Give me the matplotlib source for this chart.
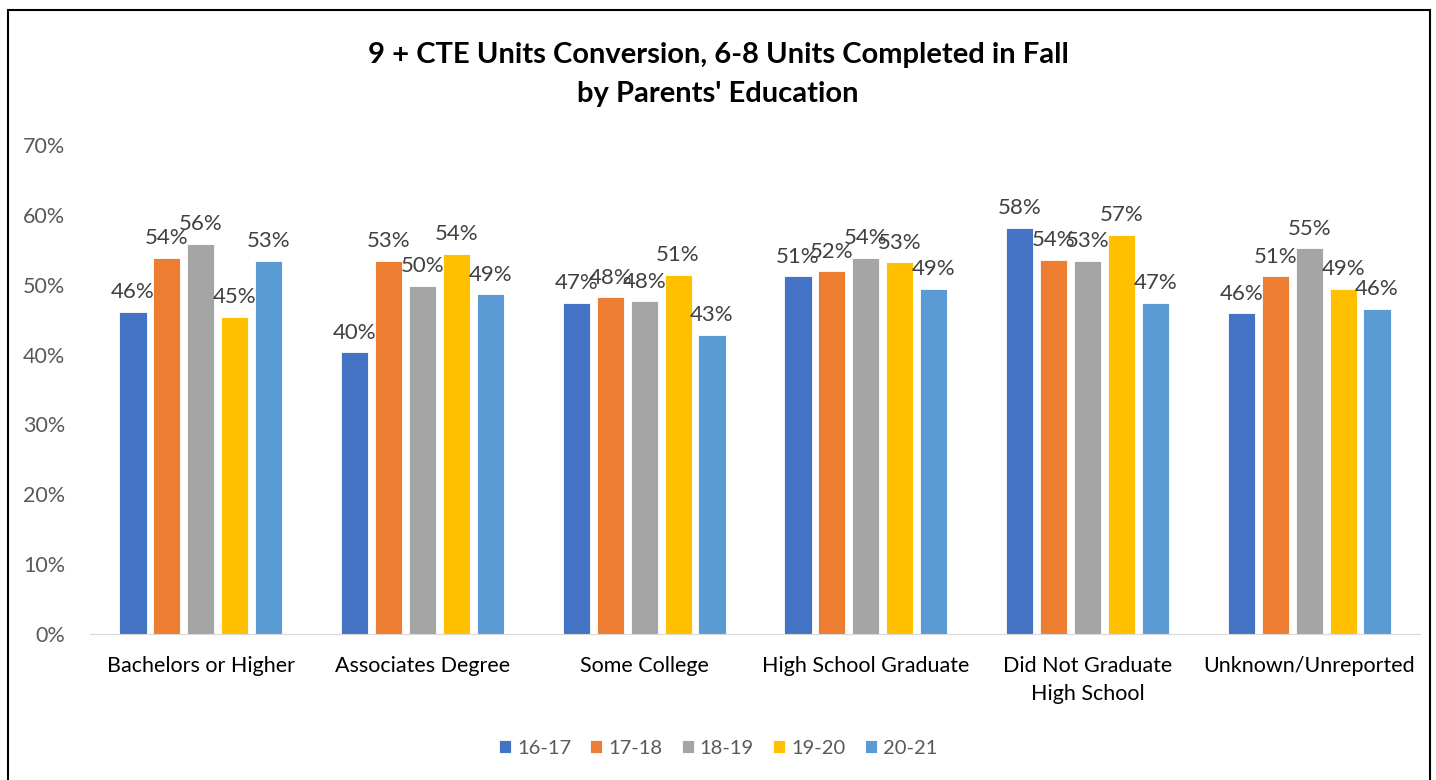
import matplotlib.pyplot as plt
import numpy as np

categories = ['Bachelors or Higher', 'Associates Degree', 'Some College',
              'High School Graduate', 'Did Not Graduate\nHigh School', 'Unknown/Unreported']
years = ['16-17', '17-18', '18-19', '19-20', '20-21']
v_16_17 = [46.1, 40.3, 47.4, 51.2, 58.1, 45.9]
v_17_18 = [53.8, 53.4, 48.2, 51.9, 53.6, 51.2]
v_18_19 = [55.8, 49.8, 47.6, 53.8, 53.4, 55.2]
v_19_20 = [45.4, 54.4, 51.4, 53.2, 57.1, 49.4]
v_20_21 = [53.4, 48.6, 42.8, 49.4, 47.4, 46.5]
series = [v_16_17, v_17_18, v_18_19, v_19_20, v_20_21]
colors = ['#4472C4', '#ED7D31', '#A5A5A5', '#FFC000', '#5B9BD5']

plt.rcParams['font.family'] = ['Lato', 'DejaVu Sans']

fig = plt.figure(figsize=(14.36, 7.80), dpi=100)
ax = fig.add_axes([90 / 1436, (780 - 634) / 780, (1420 - 90) / 1436, (634 - 145) / 780])

x = np.arange(len(categories))
pitch = 0.153
width = 0.122
for i, (vals, c) in enumerate(zip(series, colors)):
    pos = x + (i - 2) * pitch
    bars = ax.bar(pos, vals, width, color=c, label=years[i], edgecolor='white', linewidth=0.6)
    for b, v in zip(bars, vals):
        ax.annotate(f'{v:.0f}%', (b.get_x() + b.get_width() / 2, v), xytext=(0, 7),
                    textcoords='offset points', ha='center', va='bottom',
                    fontsize=16, color='#404040')

ax.set_ylim(0, 70)
ax.set_xlim(-0.5, len(categories) - 0.5)
ax.set_yticks(range(0, 71, 10))
ax.set_yticklabels([f'{t}%' for t in range(0, 71, 10)], fontsize=15.5, color='#595959')
ax.set_xticks(x)
ax.set_xticklabels(categories, fontsize=15.5, color='#000000', linespacing=1.5)
ax.tick_params(length=0)
ax.tick_params(axis='x', pad=16)
ax.tick_params(axis='y', pad=18)
for s in ['top', 'right', 'left']:
    ax.spines[s].set_visible(False)
ax.spines['bottom'].set_color('#D9D9D9')

fig.text(0.5, 1 - 42 / 780, "9 + CTE Units Conversion, 6-8 Units Completed in Fall\nby Parents' Education",
         ha='center', va='top', fontsize=21, fontweight='bold', linespacing=1.6)

fig.legend(loc='center', bbox_to_anchor=(0.5, 1 - 748 / 780), ncol=5, frameon=False,
           fontsize=14.5, handlelength=0.6, handleheight=0.6, columnspacing=0.95,
           handletextpad=0.3, labelcolor='#595959')

fig.patches.append(plt.Rectangle((8 / 1436, -0.01), 1422 / 1436, 1 - 10 / 780 + 0.01,
                                 transform=fig.transFigure, fill=False,
                                 edgecolor='black', linewidth=1.5))

fig.savefig('out.png', dpi=100)
